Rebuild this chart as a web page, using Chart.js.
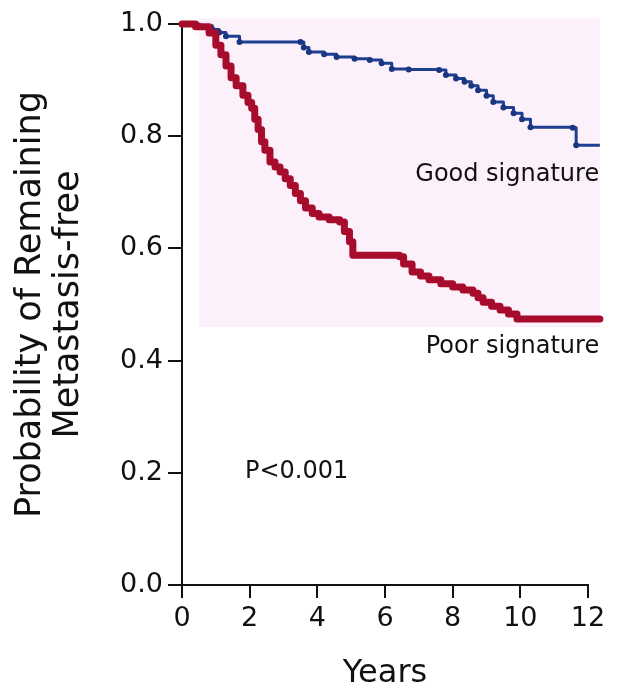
<!DOCTYPE html>
<html lang="en">
<head>
  <meta charset="UTF-8" />
  <title>Metastasis-free probability by signature</title>
  <script src="https://cdn.jsdelivr.net/npm/chart.js"></script>
  <style>
    body {
      margin: 0;
      background: #fff;
    }
    #wrap {
      width: 644px;
      height: 688px;
    }
  </style>
</head>
<body>
  <div id="wrap"><canvas id="km" width="644" height="688"></canvas></div>

  <script>
    // Kaplan-Meier estimates (years, probability)
    const goodYears = [0, 0.5, 0.9, 1.1, 1.3, 1.7, 3.5, 3.6, 3.75, 4.2, 4.57, 5.1, 5.55, 5.9, 6.2, 6.7, 7.6, 7.8, 8.1, 8.35, 8.55, 8.75, 9.0, 9.2, 9.5, 9.8, 10.05, 10.3, 11.55, 11.65, 12.35];
    const goodProb  = [1.0, 0.997, 0.99, 0.985, 0.978, 0.968, 0.968, 0.958, 0.95, 0.946, 0.941, 0.938, 0.936, 0.93, 0.92, 0.919, 0.918, 0.909, 0.903, 0.897, 0.89, 0.882, 0.872, 0.861, 0.851, 0.841, 0.83, 0.816, 0.815, 0.784, 0.784];

    const poorYears = [0, 0.4, 0.8, 1.0, 1.15, 1.3, 1.45, 1.6, 1.8, 1.95, 2.06, 2.15, 2.25, 2.35, 2.45, 2.6, 2.75, 2.9, 3.05, 3.2, 3.35, 3.5, 3.65, 3.85, 4.05, 4.35, 4.66, 4.8, 4.95, 5.05, 6.43, 6.55, 6.8, 7.05, 7.3, 7.65, 8.0, 8.3, 8.6, 8.75, 8.9, 9.15, 9.4, 9.65, 9.9, 12.35];
    const poorProb  = [1.0, 0.995, 0.984, 0.962, 0.945, 0.925, 0.904, 0.89, 0.873, 0.86, 0.85, 0.83, 0.812, 0.79, 0.775, 0.754, 0.745, 0.736, 0.724, 0.712, 0.698, 0.685, 0.672, 0.662, 0.656, 0.651, 0.647, 0.63, 0.612, 0.588, 0.585, 0.572, 0.558, 0.551, 0.544, 0.537, 0.531, 0.526, 0.52, 0.512, 0.504, 0.497, 0.49, 0.483, 0.474, 0.474];

    const xTicks = [0, 2, 4, 6, 8, 10, 12];
    const yTicks = [0, 0.2, 0.4, 0.6, 0.8, 1.0];

    const notes = [
      { text: 'Good signature', x: 12.33, y: 0.731, align: 'right' },
      { text: 'Poor signature', x: 12.33, y: 0.424, align: 'right' },
      { text: 'P<0.001', x: 1.86, y: 0.201, align: 'left' }
    ];

    // faint pink panel behind the curves, in data units
    const shade = { x0: 0.5, x1: 12.35, y0: 0.46, y1: 1.01 };

    const FONT = "'DejaVu Sans', sans-serif";
    const INK = '#111';

    const extras = {
      id: 'extras',
      beforeDatasetsDraw(chart) {
        const { ctx, scales: { x, y } } = chart;
        const l = x.getPixelForValue(shade.x0), r = x.getPixelForValue(shade.x1);
        const t = y.getPixelForValue(shade.y1), b = y.getPixelForValue(shade.y0);
        ctx.save();
        ctx.fillStyle = '#fcf1fa';
        ctx.fillRect(l, t, r - l, b - t);
        ctx.restore();
      },
      afterDatasetsDraw(chart) {
        const { ctx, scales: { x, y } } = chart;
        ctx.save();
        ctx.fillStyle = INK;
        ctx.font = '24px ' + FONT;
        ctx.textBaseline = 'middle';
        notes.forEach(n => {
          ctx.textAlign = n.align;
          ctx.fillText(n.text, x.getPixelForValue(n.x), y.getPixelForValue(n.y));
        });
        ctx.restore();
      }
    };

    const toPoints = (xs, ys) => xs.map((t, i) => ({ x: t, y: ys[i] }));

    new Chart(document.getElementById('km'), {
      type: 'line',
      data: {
        datasets: [
          {
            label: 'Poor signature',
            data: toPoints(poorYears, poorProb),
            stepped: true,
            borderColor: '#a80c2c',
            borderWidth: 7,
            borderJoinStyle: 'round',
            borderCapStyle: 'round',
            pointRadius: 0,
            clip: false
          },
          {
            label: 'Good signature',
            data: toPoints(goodYears, goodProb),
            stepped: true,
            borderColor: '#1d3f8f',
            borderWidth: 3,
            borderJoinStyle: 'round',
            pointRadius: 3,
            pointBackgroundColor: '#1a3680',
            pointBorderWidth: 0,
            clip: false
          }
        ]
      },
      options: {
        responsive: false,
        animation: false,
        layout: { padding: { top: 24, right: 56, left: 0, bottom: 0 } },
        plugins: {
          legend: { display: false },
          tooltip: { enabled: false }
        },
        scales: {
          x: {
            type: 'linear',
            min: 0,
            max: 12,
            afterBuildTicks: s => { s.ticks = xTicks.map(v => ({ value: v })); },
            afterFit: s => { s.height = 103; },
            grid: { drawOnChartArea: false, drawTicks: true, tickLength: 13, color: INK, lineWidth: 2 },
            border: { color: INK, width: 2 },
            ticks: { color: INK, padding: 5, font: { family: FONT, size: 27 } },
            title: {
              display: true,
              text: 'Years',
              color: INK,
              padding: { top: 0, bottom: -5 },
              font: { family: FONT, size: 32 }
            }
          },
          y: {
            min: 0,
            max: 1,
            afterBuildTicks: s => { s.ticks = yTicks.map(v => ({ value: v })); },
            afterFit: s => { s.width = 182; },
            grid: { drawOnChartArea: false, drawTicks: true, tickLength: 14, color: INK, lineWidth: 2 },
            border: { color: INK, width: 2 },
            ticks: {
              color: INK,
              padding: 5,
              font: { family: FONT, size: 27 },
              callback: v => v.toFixed(1)
            },
            title: {
              display: true,
              text: ['Probability of Remaining', 'Metastasis-free'],
              color: INK,
              padding: { top: 12, bottom: 0 },
              font: { family: FONT, size: 35, lineHeight: 1.08 }
            }
          }
        }
      },
      plugins: [extras]
    });
  </script>
</body>
</html>
